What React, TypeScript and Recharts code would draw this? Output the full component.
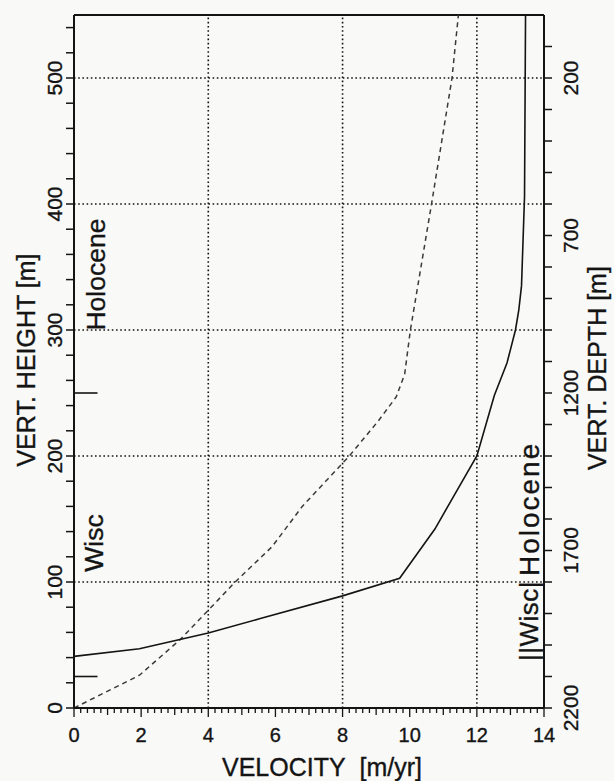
import React from 'react';
import { LineChart, Line, XAxis, YAxis, ReferenceLine, ReferenceDot, Label } from 'recharts';

// solid profile: velocity [m/yr] vs vertical height [m]
const solidVelocity = [0, 1.95, 4, 5.55, 8, 9.7, 10.75, 11.35, 12, 12.52, 12.9, 13.15, 13.25, 13.33, 13.42, 13.45];
const solidHeight = [41, 47, 59.5, 71, 89, 103, 142, 170, 200, 248, 274, 300, 316, 335, 406, 550];

// dashed profile
const dashedVelocity = [0, 1.95, 3.15, 4, 4.8, 5.9, 6.8, 8.2, 9.07, 9.6, 9.85, 10.02, 10.65, 11.26, 11.45];
const dashedHeight = [0, 26, 54, 77.6, 100, 128, 160, 200, 228, 247, 265, 300, 400, 500, 550];

const gridVelocity = [4, 8, 12];
const gridHeight = [100, 200, 300, 400, 500];
const boundaryHeights = [250, 25];

const velocityTicks = Array.from({ length: 71 }, (_, i) => Math.round(i * 2) / 10);
const heightTicks = Array.from({ length: 28 }, (_, i) => i * 20);
const depthTicks = Array.from({ length: 22 }, (_, i) => (i + 1) * 100);
const depthLabels = [200, 700, 1200, 1700, 2200];

const solidData = solidVelocity.map((v, i) => ({ v, h: solidHeight[i] }));
const dashedData = dashedVelocity.map((v, i) => ({ v, h: dashedHeight[i] }));

const FONT = '"Liberation Sans", Arial, Helvetica, sans-serif';
const INK = '#141414';
// a thin outline gives the lettering a slightly heavier weight
const textStyle = { fontFamily: FONT, fill: INK, stroke: INK, strokeWidth: 0.35 };

const VelocityTick = (props: any) => {
  const { x, y, payload } = props;
  const v = payload.value;
  const even = Math.abs(v / 2 - Math.round(v / 2)) < 1e-6;
  const whole = Math.abs(v - Math.round(v)) < 1e-6;
  return (
    <g>
      <line x1={x} x2={x} y1={y} y2={y + (even ? 9 : whole ? 7 : 5)} stroke={INK} strokeWidth={1.3} />
      {even && (
        <text x={x} y={y + 34} textAnchor="middle" fontSize={20} {...textStyle}>
          {Math.round(v)}
        </text>
      )}
    </g>
  );
};

const HeightTick = (props: any) => {
  const { x, y, payload } = props;
  const v = payload.value;
  const tx = x - 20;
  return (
    <g>
      <line x1={x} x2={x - 8} y1={y} y2={y} stroke={INK} strokeWidth={1.5} />
      {v % 100 === 0 && (
        <text x={tx} y={y} transform={`rotate(-90 ${tx} ${y})`} textAnchor="middle" dominantBaseline="central"
          fontSize={21} {...textStyle}>
          {v}
        </text>
      )}
    </g>
  );
};

const DepthTick = (props: any) => {
  const { x, y, payload } = props;
  const v = payload.value;
  const tx = x + 26;
  return (
    <g>
      <line x1={x} x2={x + 8} y1={y} y2={y} stroke={INK} strokeWidth={1.5} />
      {depthLabels.includes(v) && (
        <text x={tx} y={y} transform={`rotate(-90 ${tx} ${y})`} textAnchor="middle" dominantBaseline="central"
          fontSize={21} {...textStyle}>
          {v}
        </text>
      )}
    </g>
  );
};

const upright = (text: string, size: number, spacing = 0) => (props: any) => {
  const { viewBox } = props;
  const cx = viewBox.x + (viewBox.width || 0) / 2;
  const cy = viewBox.y + (viewBox.height || 0) / 2;
  return (
    <text x={cx} y={cy} transform={`rotate(-90 ${cx} ${cy})`} textAnchor="middle" dominantBaseline="central"
      fontSize={size} letterSpacing={spacing} {...textStyle}>
      {text}
    </text>
  );
};

const fixedText = (text: string, x: number, y: number, size: number, rotate: boolean) => () => (
  <text x={x} y={y} transform={rotate ? `rotate(-90 ${x} ${y})` : undefined} textAnchor="middle"
    dominantBaseline="central" fontSize={size} {...textStyle}>
    {text}
  </text>
);

export default function App() {
  return (
    <div style={{ position: 'absolute', left: 0, top: 0, width: 614, height: 781, background: '#f9f9f7' }}>
      <LineChart width={614} height={781} margin={{ top: 15, right: 30, bottom: 33, left: 34 }}>
        <XAxis type="number" dataKey="v" domain={[0, 14]} ticks={velocityTicks} interval={0} height={40}
          tickSize={0} tickMargin={0} tick={VelocityTick} axisLine={{ stroke: INK, strokeWidth: 2 }} allowDataOverflow>
          <Label content={fixedText('VELOCITY\u00a0\u00a0[m/yr]', 322, 767, 25, false)} />
        </XAxis>
        <YAxis type="number" dataKey="h" domain={[0, 550]} ticks={heightTicks} interval={0} width={40}
          tickSize={0} tickMargin={0} tick={HeightTick} axisLine={{ stroke: INK, strokeWidth: 2 }} allowDataOverflow>
          <Label content={fixedText('VERT. HEIGHT [m]', 26, 360, 25, true)} />
        </YAxis>
        <YAxis yAxisId="depth" orientation="right" type="number" domain={[0, 2200]} reversed ticks={depthTicks}
          interval={0} width={40} tickSize={0} tickMargin={0} tick={DepthTick}
          axisLine={{ stroke: INK, strokeWidth: 2 }} allowDataOverflow>
          <Label content={fixedText('VERT. DEPTH [m]', 597, 368, 25, true)} />
        </YAxis>

        {gridVelocity.map((v) => (
          <ReferenceLine key={`gv${v}`} x={v} stroke={INK} strokeWidth={1.6} strokeDasharray="1.6 2.6" />
        ))}
        {gridHeight.map((h) => (
          <ReferenceLine key={`gh${h}`} y={h} stroke={INK} strokeWidth={1.6} strokeDasharray="1.6 2.6" />
        ))}
        <ReferenceLine y={550} stroke={INK} strokeWidth={2.2} />
        {boundaryHeights.map((h) => (
          <ReferenceLine key={`b${h}`} segment={[{ x: 0, y: h }, { x: 0.7, y: h }]} stroke={INK} strokeWidth={1.6} />
        ))}

        <ReferenceDot x={0.66} y={344} r={0} fill="none" stroke="none" label={{ content: upright('Holocene', 26.5) }} />
        <ReferenceDot x={0.6} y={131} r={0} fill="none" stroke="none" label={{ content: upright('Wisc', 26.5) }} />
        <ReferenceDot x={13.56} y={158} r={0} fill="none" stroke="none" label={{ content: upright('Holocene', 28, 2) }} />
        <ReferenceDot x={13.56} y={69} r={0} fill="none" stroke="none" label={{ content: upright('||Wisc|', 26, 0.5) }} />

        <Line data={dashedData} dataKey="h" type="linear" stroke="#3a3a3a" strokeWidth={1.5} strokeDasharray="5 4"
          dot={false} isAnimationActive={false} />
        <Line data={solidData} dataKey="h" type="linear" stroke={INK} strokeWidth={1.6} dot={false}
          isAnimationActive={false} />
      </LineChart>
    </div>
  );
}
